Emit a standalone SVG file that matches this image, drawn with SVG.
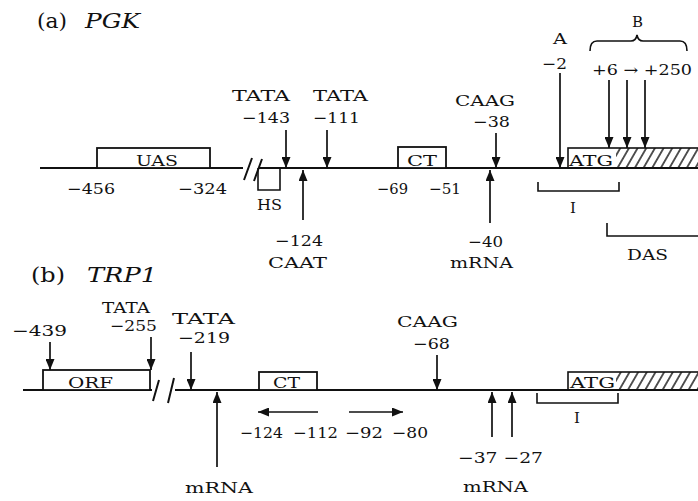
<svg xmlns="http://www.w3.org/2000/svg" width="698" height="501" viewBox="0 0 698 501">
<style>
.t{font-family:"DejaVu Serif","Liberation Serif",serif;font-size:15px;fill:#111}
.h{font-family:"DejaVu Serif","Liberation Serif",serif;font-size:21px;fill:#111}
.i{font-style:italic}
.ln{fill:none;stroke:#111;stroke-width:2}
.bx{fill:#fff;stroke:#111;stroke-width:1.8}
.ar{fill:none;stroke:#111;stroke-width:1.7;marker-end:url(#ah)}
.br{fill:none;stroke:#111;stroke-width:1.6}
</style>
<defs>
<marker id="ah" viewBox="0 0 11 9" refX="11" refY="4.5" markerWidth="11" markerHeight="9" orient="auto" markerUnits="userSpaceOnUse">
<path d="M0,0 L11,4.5 L0,9 z" fill="#111"/>
</marker>
<pattern id="hatch" width="7.5" height="10" patternUnits="userSpaceOnUse" patternTransform="rotate(30)">
<line x1="3.75" y1="-1" x2="3.75" y2="11" stroke="#111" stroke-width="1.4"/>
</pattern>
</defs>

<!-- Panel (a) -->
<g id="title-a">
<text class="h" x="37" y="28" textLength="30" lengthAdjust="spacingAndGlyphs">(a)</text>
<text class="h i" x="85" y="28" textLength="55" lengthAdjust="spacingAndGlyphs">PGK</text>
</g>
<g id="backbone-a">
<path class="ln" d="M40,168 H243 M258,168 H698"/>
<path class="ln" d="M244,180 L252,158 M254,181 L262,159"/>
</g>
<g id="uas">
<rect class="bx" x="97" y="148" width="113" height="20"/>
<text class="t" x="136" y="166" textLength="42" lengthAdjust="spacingAndGlyphs">UAS</text>
<text class="t" x="67" y="194" textLength="48" lengthAdjust="spacingAndGlyphs">−456</text>
<text class="t" x="178" y="194" textLength="49" lengthAdjust="spacingAndGlyphs">−324</text>
</g>
<g id="hs">
<path class="br" d="M258,168 V190 H280 V168"/>
<text class="t" x="257" y="210" textLength="25" lengthAdjust="spacingAndGlyphs">HS</text>
</g>
<g id="tata-143">
<text class="t" x="232" y="101" textLength="58" lengthAdjust="spacingAndGlyphs">TATA</text>
<text class="t" x="242" y="123" textLength="48" lengthAdjust="spacingAndGlyphs">−143</text>
</g>
<g id="tata-111">
<text class="t" x="313" y="101" textLength="55" lengthAdjust="spacingAndGlyphs">TATA</text>
<text class="t" x="313" y="123" textLength="47" lengthAdjust="spacingAndGlyphs">−111</text>
</g>
<g id="caat-124">
<text class="t" x="275" y="246" textLength="48" lengthAdjust="spacingAndGlyphs">−124</text>
<text class="t" x="268" y="268" textLength="59" lengthAdjust="spacingAndGlyphs">CAAT</text>
</g>
<g id="ct-a">
<rect class="bx" x="398" y="147" width="48" height="21"/>
<text class="t" x="407" y="166" textLength="30" lengthAdjust="spacingAndGlyphs">CT</text>
<text class="t" x="377" y="194" textLength="31" lengthAdjust="spacingAndGlyphs">−69</text>
<text class="t" x="429" y="194" textLength="32" lengthAdjust="spacingAndGlyphs">−51</text>
</g>
<g id="caag-38">
<text class="t" x="455" y="106" textLength="60" lengthAdjust="spacingAndGlyphs">CAAG</text>
<text class="t" x="473" y="127" textLength="37" lengthAdjust="spacingAndGlyphs">−38</text>
</g>
<g id="mrna-40">
<text class="t" x="468" y="247" textLength="35" lengthAdjust="spacingAndGlyphs">−40</text>
<text class="t" x="450" y="268" textLength="63" lengthAdjust="spacingAndGlyphs">mRNA</text>
</g>
<g id="site-a">
<text class="t" x="553" y="44" textLength="14" lengthAdjust="spacingAndGlyphs">A</text>
<text class="t" x="542" y="69" textLength="25" lengthAdjust="spacingAndGlyphs">−2</text>
</g>
<g id="atg-a">
<rect x="616" y="148" width="90" height="20" fill="url(#hatch)"/>
<rect class="br" x="568" y="148" width="140" height="20"/>
<text class="t" x="569" y="166" textLength="44" lengthAdjust="spacingAndGlyphs">ATG</text>
</g>
<g id="site-b">
<path class="br" d="M590,51 Q590,41 597,41 H631 Q636,41 637,35 Q638,41 643,41 H680 Q687,41 687,51"/>
<text class="t" x="632" y="27" textLength="11" lengthAdjust="spacingAndGlyphs">B</text>
<text class="t" x="592" y="75" textLength="100" lengthAdjust="spacingAndGlyphs">+6 → +250</text>
</g>
<g id="region-i-a">
<path class="br" d="M538,182 V191 H619 V182"/>
<text class="t" x="573" y="213" text-anchor="middle">I</text>
</g>
<g id="das">
<path class="br" d="M607,223 V236 H698"/>
<text class="t" x="627" y="260" textLength="41" lengthAdjust="spacingAndGlyphs">DAS</text>
</g>

<!-- Panel (b) -->
<g id="title-b">
<text class="h" x="31" y="282" textLength="34" lengthAdjust="spacingAndGlyphs">(b)</text>
<text class="h i" x="87" y="282" textLength="70" lengthAdjust="spacingAndGlyphs">TRP1</text>
</g>
<g id="backbone-b">
<path class="ln" d="M23,390 H152 M175,390 H698"/>
<path class="ln" d="M153,401 L159,380 M168,403 L174,378"/>
</g>
<g id="orf">
<rect class="bx" x="43" y="370" width="107" height="20"/>
<text class="t" x="68" y="388" textLength="45" lengthAdjust="spacingAndGlyphs">ORF</text>
</g>
<g id="pos-439">
<text class="t" x="12" y="336" textLength="55" lengthAdjust="spacingAndGlyphs">−439</text>
</g>
<g id="tata-255">
<text class="t" x="102" y="313" textLength="48" lengthAdjust="spacingAndGlyphs">TATA</text>
<text class="t" x="110" y="331" textLength="47" lengthAdjust="spacingAndGlyphs">−255</text>
</g>
<g id="tata-219">
<text class="t" x="172" y="324" textLength="63" lengthAdjust="spacingAndGlyphs">TATA</text>
<text class="t" x="178" y="343" textLength="52" lengthAdjust="spacingAndGlyphs">−219</text>
</g>
<g id="mrna-b1">
<text class="t" x="185" y="493" textLength="68" lengthAdjust="spacingAndGlyphs">mRNA</text>
</g>
<g id="ct-b">
<rect class="bx" x="259" y="372" width="58" height="18"/>
<text class="t" x="273" y="388" textLength="27" lengthAdjust="spacingAndGlyphs">CT</text>
<text class="t" x="240" y="438" textLength="43" lengthAdjust="spacingAndGlyphs">−124</text>
<text class="t" x="293" y="438" textLength="45" lengthAdjust="spacingAndGlyphs">−112</text>
<text class="t" x="345" y="438" textLength="38" lengthAdjust="spacingAndGlyphs">−92</text>
<text class="t" x="392" y="438" textLength="36" lengthAdjust="spacingAndGlyphs">−80</text>
</g>
<g id="caag-68">
<text class="t" x="397" y="327" textLength="61" lengthAdjust="spacingAndGlyphs">CAAG</text>
<text class="t" x="413" y="349" textLength="37" lengthAdjust="spacingAndGlyphs">−68</text>
</g>
<g id="mrna-b2">
<text class="t" x="458" y="463" textLength="85" lengthAdjust="spacingAndGlyphs">−37 −27</text>
<text class="t" x="463" y="492" textLength="65" lengthAdjust="spacingAndGlyphs">mRNA</text>
</g>
<g id="atg-b">
<rect x="616" y="372" width="90" height="18" fill="url(#hatch)"/>
<rect class="br" x="568" y="372" width="140" height="18"/>
<text class="t" x="570" y="388" textLength="45" lengthAdjust="spacingAndGlyphs">ATG</text>
</g>
<g id="region-i-b">
<path class="br" d="M537,393 V403 H618 V393"/>
<text class="t" x="577" y="423" text-anchor="middle">I</text>
</g>

<g id="connectors">
<path class="ar" d="M286,130 V168"/>
<path class="ar" d="M327,130 V168"/>
<path class="ar" d="M303,220 V170"/>
<path class="ar" d="M496,133 V168"/>
<path class="ar" d="M490,223 V170"/>
<path class="ar" d="M560,73 V168"/>
<path class="ar" d="M609,80 V148"/>
<path class="ar" d="M627,80 V148"/>
<path class="ar" d="M645,80 V148"/>
<path class="ar" d="M50,342 V370"/>
<path class="ar" d="M151,337 V370"/>
<path class="ar" d="M191,352 V390"/>
<path class="ar" d="M217,467 V392"/>
<path class="ar" d="M318,412 H258"/>
<path class="ar" d="M349,412 H403"/>
<path class="ar" d="M437,355 V390"/>
<path class="ar" d="M492,437 V392"/>
<path class="ar" d="M512,437 V392"/>
</g>
</svg>
